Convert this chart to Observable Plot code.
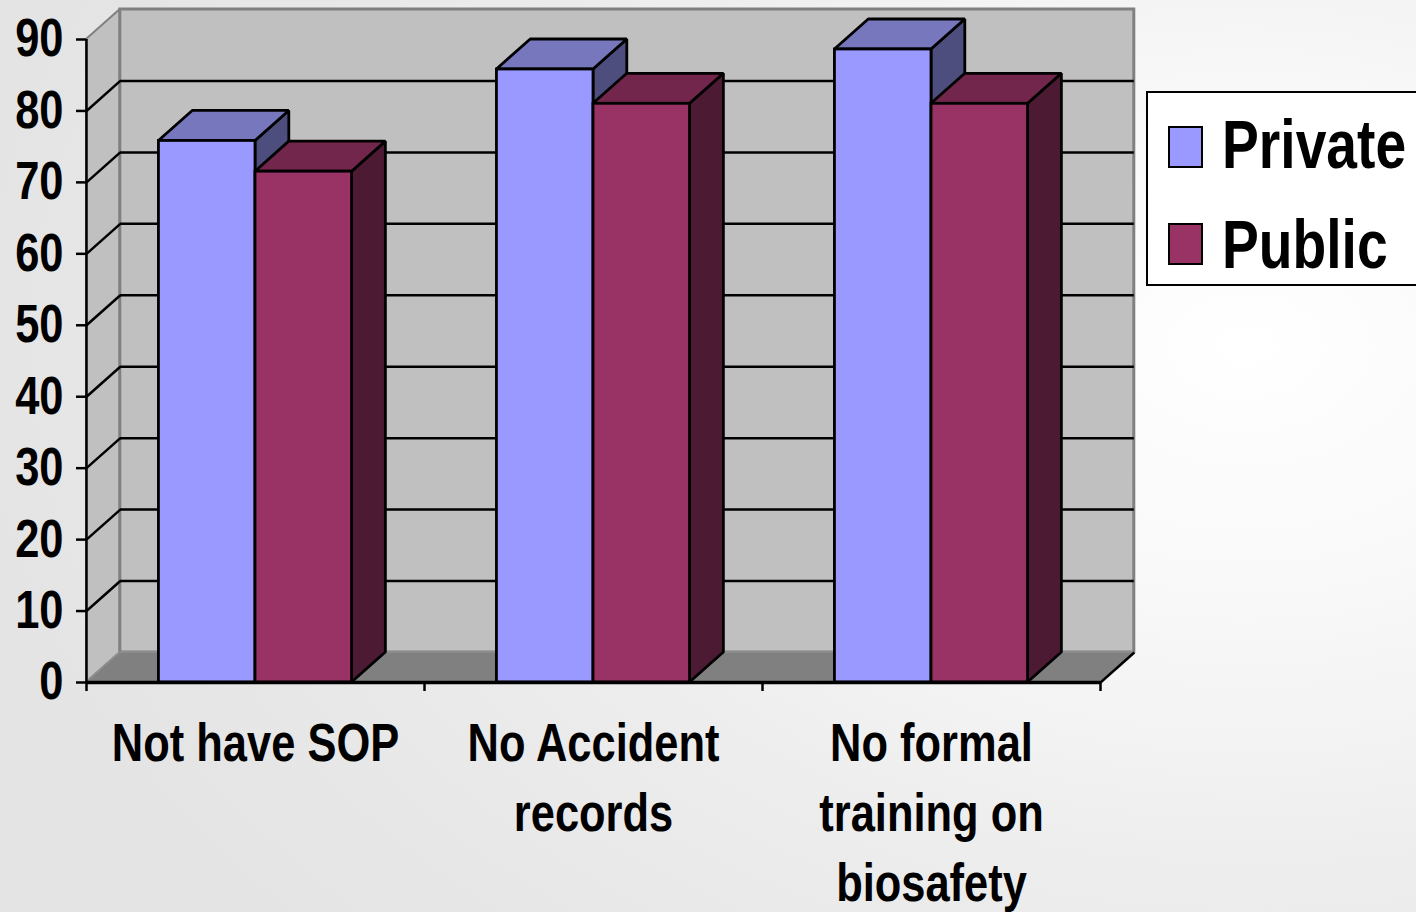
<!DOCTYPE html>
<html>
<head>
<meta charset="utf-8">
<script src="https://cdn.jsdelivr.net/npm/d3@7"></script>
<script src="https://cdn.jsdelivr.net/npm/@observablehq/plot@0.6"></script>
<style>
  html, body { margin: 0; padding: 0; width: 1416px; height: 912px; overflow: hidden; }
  body {
    position: relative;
    background: radial-gradient(ellipse 90% 95% at 88% 38%, #ffffff 0%, #f8f8f8 30%, #ececec 65%, #e4e4e4 100%);
    font-family: "Liberation Sans", Arial, sans-serif;
    font-weight: bold;
  }
  #chart { position: absolute; left: 0; top: 0; }
  #legend {
    position: absolute; left: 1146px; top: 91px; width: 300px; height: 195px;
    box-sizing: border-box; border: 2.5px solid #000; background: #fff;
  }
  .sw { position: absolute; width: 35px; height: 42px; box-sizing: border-box; border: 2.5px solid #000; }
  .lab {
    position: absolute; font-size: 69px; line-height: 69px; color: #000; white-space: nowrap;
    transform: scaleX(0.8); transform-origin: 0 0;
  }
</style>
</head>
<body>
<div id="chart"></div>
<div id="legend"></div>
<script>
// Survey categories and the share (%) of labs in each sector
const categories = ["Not have SOP", "No Accident\nrecords", "No formal\ntraining on\nbiosafety"];
const seriesNames = ["Private", "Public"];
const privateValues = [75.8, 85.8, 88.6];
const publicValues = [71.5, 81, 81];
const yTicks = [0, 10, 20, 30, 40, 50, 60, 70, 80, 90];

// Face colours for each series: front, top, side
const palette = {
  Private: {front: "#9999ff", top: "#7777bd", side: "#4e4e7e"},
  Public:  {front: "#993366", top: "#72264c", side: "#4c1a33"}
};

// Oblique depth of the 3D box, in data units (x: categories, y: percent)
const DX = 0.1;
const DY = 4.2;
const YMAX = 90;
const N = categories.length;

// Excel-style layout: two bars per category with a 150% gap
const W = 1 / 3.5;
const GAP = 0.75 * W;

// Narrow type: bold sans squeezed horizontally
const NARROW = 0.82;

const bars = [];
categories.forEach((c, i) => {
  [privateValues[i], publicValues[i]].forEach((v, j) => {
    const x1 = i + GAP + j * W;
    bars.push({category: c, series: seriesNames[j], value: v, x1, x2: x1 + W});
  });
});

const gridValues = yTicks.filter(v => v > 0 && v < YMAX);

const marks = [
  // left side wall
  Plot.areaY([{x: 0, y1: 0, y2: YMAX}, {x: DX, y1: DY, y2: YMAX + DY}],
    {x: "x", y1: "y1", y2: "y2", fill: "#c0c0c0", stroke: "#808080", strokeWidth: 2}),
  // back wall
  Plot.rect([{}], {x1: DX, x2: N + DX, y1: DY, y2: YMAX + DY, fill: "#c0c0c0", stroke: "#808080", strokeWidth: 3}),
  // floor
  Plot.areaX([{y: 0, x1: 0, x2: N}, {y: DY, x1: DX, x2: N + DX}],
    {y: "y", x1: "x1", x2: "x2", fill: "#808080", stroke: "#909090", strokeWidth: 1.5}),
  // gridlines on the back wall
  Plot.ruleY(gridValues, {y: d => d + DY, x1: DX, x2: N + DX, stroke: "#000", strokeWidth: 2.5}),
  // gridlines running across the side wall
  Plot.link(gridValues, {x1: 0, y1: d => d, x2: DX, y2: d => d + DY, stroke: "#000", strokeWidth: 2.5}),
  // right edge of the floor
  Plot.link([N], {x1: d => d, y1: 0, x2: d => d + DX, y2: DY, stroke: "#000", strokeWidth: 2.5})
];

// bars, drawn side / top / front one bar at a time so that each hides the one behind it
for (const b of bars) {
  const c = palette[b.series];
  marks.push(
    Plot.areaY([{x: b.x2, y1: 0, y2: b.value}, {x: b.x2 + DX, y1: DY, y2: b.value + DY}],
      {x: "x", y1: "y1", y2: "y2", fill: c.side, stroke: "#000", strokeWidth: 2.8, strokeLinejoin: "miter"}),
    Plot.areaX([{y: b.value, x1: b.x1, x2: b.x2}, {y: b.value + DY, x1: b.x1 + DX, x2: b.x2 + DX}],
      {y: "y", x1: "x1", x2: "x2", fill: c.top, stroke: "#000", strokeWidth: 2.8, strokeLinejoin: "miter"}),
    Plot.rect([b], {x1: "x1", x2: "x2", y1: 0, y2: "value", fill: c.front, stroke: "#000", strokeWidth: 2.8})
  );
}

marks.push(
  // value axis
  Plot.ruleX([0], {y1: 0, y2: YMAX, stroke: "#000", strokeWidth: 2.5}),
  Plot.axisY(yTicks, {tickSize: 10, tickPadding: 13, fontSize: 53, fontWeight: "bold", strokeWidth: 2.5}),
  // category axis
  Plot.ruleY([0], {x1: 0, x2: N, stroke: "#000", strokeWidth: 3.5}),
  Plot.axisX(d3.range(N + 1), {tickSize: 9, tickFormat: () => "", strokeWidth: 2.5}),
  Plot.text(categories, {
    x: (d, i) => i + 0.5, y: 0, text: d => d, lineAnchor: "top", dy: 29,
    fontSize: 53, fontWeight: "bold", lineHeight: 1.32, fill: "#000"
  })
);

const chart = Plot.plot({
  width: 1416,
  height: 912,
  marginLeft: 86,
  marginRight: 316,
  marginTop: 39,
  marginBottom: 230,
  x: {type: "linear", domain: [0, N], axis: null},
  y: {type: "linear", domain: [0, YMAX], axis: null},
  style: {
    background: "transparent",
    overflow: "visible",
    fontFamily: '"Liberation Sans", Arial, sans-serif',
    fontWeight: "bold",
    color: "#000"
  },
  marks
});

// squeeze every label horizontally about its own anchor
d3.select(chart).selectAll("text").attr("transform", function() {
  return (this.getAttribute("transform") || "") + ` scale(${NARROW},1)`;
});
document.getElementById("chart").append(chart);

// legend
const legend = document.getElementById("legend");
const swatchTops = [124, 221];
const labelTops = [108, 208];
seriesNames.forEach((name, i) => {
  const sw = document.createElement("div");
  sw.className = "sw";
  sw.style.left = (1166 - 1146) + "px";
  sw.style.top = (swatchTops[i] - 91) + "px";
  sw.style.background = palette[name].front;
  legend.append(sw);
  const lab = document.createElement("div");
  lab.className = "lab";
  lab.style.left = (1220 - 1146) + "px";
  lab.style.top = (labelTops[i] - 91) + "px";
  lab.textContent = name;
  legend.append(lab);
});
</script>
</body>
</html>
